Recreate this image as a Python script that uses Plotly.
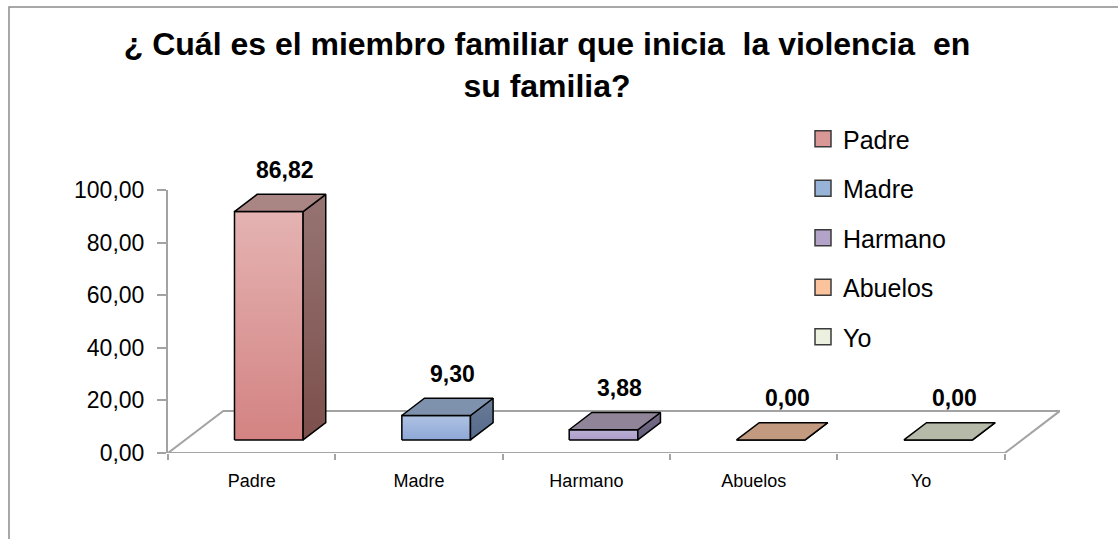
import plotly.graph_objects as go

# ---------------- data ----------------
categories = ["Padre", "Madre", "Harmano", "Abuelos", "Yo"]
values = [86.82, 9.30, 3.88, 0.00, 0.00]
value_labels = ["86,82", "9,30", "3,88", "0,00", "0,00"]
y_tick_vals = [0, 20, 40, 60, 80, 100]
y_tick_text = ["0,00", "20,00", "40,00", "60,00", "80,00", "100,00"]
title_text = "¿ Cuál es el miembro familiar que inicia \u00a0la violencia \u00a0en<br>su familia?"

# ---------------- styles ----------------
front_colors = [("#D38382", "#E4B3B2"), ("#8EA8D6", "#AEC2E2"), ("#AC9DCA", "#BBAFD3"),
                ("#C29A80", "#C29A80"), ("#B5BBA8", "#B5BBA8")]
side_colors = [("#7C4F4B", "#967472"), ("#55698A", "#6A7C98"), ("#645B7A", "#766E88"),
               ("#8E6E5A", "#8E6E5A"), ("#82877A", "#82877A")]
top_colors = ["#A98584", "#7F92AD", "#8F8498", "#C29A80", "#B5BBA8"]
legend_colors = ["#D99795", "#97B3D8", "#B3A3C8", "#FBC39C", "#EBF1DE"]
FONT = "Liberation Sans"
GRAY = "#A3A3A3"

# oblique 3-D projection parameters (axis units)
DEPTH_X = 0.33      # floor depth along x (category units)
DEPTH_Y = 16.0      # floor depth along y (value units)
BAR_W = 0.41        # bar width (category units)
F0, F1 = 0.31, 0.72  # bar front/back position within floor depth

n = len(categories)
fig = go.Figure()

# floor (parallelogram)
fx = [-0.5, n - 0.5, n - 0.5 + DEPTH_X, -0.5 + DEPTH_X, -0.5]
fy = [0, 0, DEPTH_Y, DEPTH_Y, 0]
fig.add_trace(go.Scatter(x=fx, y=fy, mode="lines", line=dict(color=GRAY, width=2),
                         hoverinfo="skip", showlegend=False))

ddx = (F1 - F0) * DEPTH_X
ddy = (F1 - F0) * DEPTH_Y
annotations = []
for i, v in enumerate(values):
    xc = i + F0 * DEPTH_X
    xl, xr = xc - BAR_W / 2, xc + BAR_W / 2
    yb = F0 * DEPTH_Y
    yt = yb + v
    faces = [
        ([xl, xr, xr, xl, xl], [yb, yb, yt, yt, yb], front_colors[i]),
        ([xr, xr + ddx, xr + ddx, xr, xr], [yb, yb + ddy, yt + ddy, yt, yb], side_colors[i]),
        ([xl, xr, xr + ddx, xl + ddx, xl], [yt, yt, yt + ddy, yt + ddy, yt], (top_colors[i], top_colors[i])),
    ]
    for px, py, (c0, c1) in faces:
        fig.add_trace(go.Scatter(
            x=px, y=py, mode="lines", fill="toself",
            fillgradient=dict(type="vertical", colorscale=[[0, c0], [1, c1]]),
            line=dict(color="#000000", width=1.5),
            hoverinfo="skip", showlegend=False))
    annotations.append(dict(
        x=xc + ddx / 2, y=yt, xref="x", yref="y", text="<b>%s</b>" % value_labels[i],
        showarrow=False, xshift=5, yshift=42, yanchor="middle",
        font=dict(family=FONT, size=23, color="#000000")))

# legend entries
for i, c in enumerate(categories):
    fig.add_trace(go.Scatter(
        x=[None], y=[None], mode="markers", name=c, legendgroup=c,
        marker=dict(symbol="square", size=16, color=legend_colors[i],
                    line=dict(color="#3A3A3A", width=1.5))))

fig.add_shape(type="rect", xref="paper", yref="paper",
              x0=(9 - 168) / 892, x1=1.3, y0=-0.6, y1=(453 - 7) / 263,
              line=dict(color="#8C8C8C", width=1.5), layer="below")

fig.update_layout(
    width=1118, height=539,
    margin=dict(l=168, r=58, t=190, b=86),
    paper_bgcolor="white", plot_bgcolor="white",
    title=dict(text="<b>%s</b>" % title_text, x=547 / 1118, xanchor="center",
               xref="container", yref="container", y=1 - 55 / 539, yanchor="top",
               font=dict(family=FONT, size=32, color="#000000")),
    xaxis=dict(range=[-0.5, n - 0.5 + DEPTH_X], tickvals=list(range(n)), ticktext=categories,
               ticks="", showline=False, showgrid=False, zeroline=False,
               tickfont=dict(family=FONT, size=18, color="#000000"),
               ticklabelstandoff=15,
               minor=dict(tickvals=[k - 0.5 for k in range(n + 1)], ticks="outside",
                          ticklen=6, tickwidth=2, tickcolor=GRAY, showgrid=False),
               fixedrange=True),
    yaxis=dict(range=[0, 100], tickvals=y_tick_vals, ticktext=y_tick_text,
               ticks="outside", ticklen=9, tickwidth=2, tickcolor=GRAY,
               showline=True, linecolor=GRAY, linewidth=2, showgrid=False, zeroline=False,
               tickfont=dict(family=FONT, size=23, color="#000000"),
               ticklabelstandoff=8, fixedrange=True),
    legend=dict(x=(803 - 168) / 892, xanchor="left", y=(453 - 116) / 263, yanchor="top",
                font=dict(family=FONT, size=25, color="#000000"),
                tracegroupgap=14, bgcolor="rgba(0,0,0,0)"),
    annotations=annotations,
    showlegend=True,
)

fig.write_html("out.html", config={"displayModeBar": False},
               post_script="document.body.style.margin='0px';")
